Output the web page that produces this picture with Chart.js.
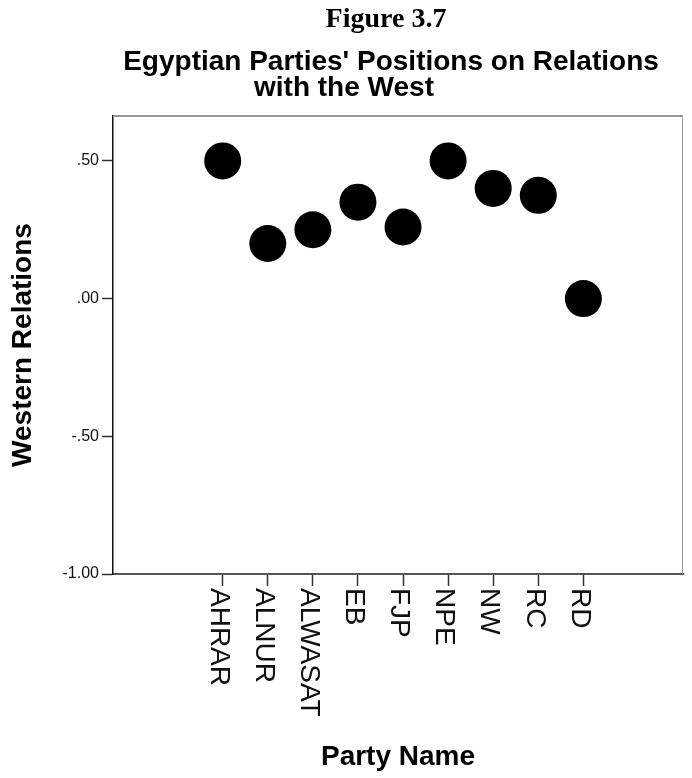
<!DOCTYPE html>
<html>
<head>
<meta charset="utf-8">
<title>Figure 3.7</title>
<script src="https://cdn.jsdelivr.net/npm/chart.js@4.4.1/dist/chart.umd.min.js"></script>
<style>
  html, body { margin: 0; padding: 0; background: #fff; }
</style>
</head>
<body>
<canvas id="partyChart" width="692" height="778"></canvas>
<script>
// Data
const partyNames = ['AHRAR', 'ALNUR', 'ALWASAT', 'EB', 'FJP', 'NPE', 'NW', 'RC', 'RD'];
const westernRelations = [0.50, 0.20, 0.25, 0.35, 0.26, 0.50, 0.40, 0.375, 0.00];
const yTickValues = [-1, -0.5, 0, 0.5];

const figureLabel = 'Figure 3.7';
const titleLines = ["Egyptian Parties' Positions on Relations", 'with the West'];
const yAxisTitle = 'Western Relations';
const xAxisTitle = 'Party Name';

const SANS = "'Liberation Sans', Arial, sans-serif";
const SERIF = "'Liberation Serif', 'Times New Roman', serif";

// SPSS style tick text: .50, .00, -.50, -1.00
function fmtTick(v) {
  let s = Math.abs(v).toFixed(2);
  if (s.startsWith('0')) s = s.slice(1);
  return (v < 0 ? '-' : '') + s;
}

// Titles (SPSS lines are not centred on the same x)
const titlePlugin = {
  id: 'spssTitles',
  afterDraw(chart) {
    const ctx = chart.ctx;
    ctx.save();
    ctx.fillStyle = '#000';
    ctx.textAlign = 'center';
    ctx.textBaseline = 'alphabetic';
    ctx.font = `bold 28px ${SERIF}`;
    ctx.fillText(figureLabel, 386, 27);
    ctx.font = `bold 28px ${SANS}`;
    ctx.fillText(titleLines[0], 391, 70);
    ctx.fillText(titleLines[1], 344, 96);
    ctx.restore();
  }
};

// Frame on the top and right of the plot, plus x labels read top-to-bottom
const framePlugin = {
  id: 'frameAndLabels',
  afterDraw(chart) {
    const { ctx, chartArea, scales } = chart;
    ctx.save();
    ctx.strokeStyle = '#999';
    ctx.lineWidth = 2;
    ctx.beginPath();
    ctx.moveTo(chartArea.left, chartArea.top);
    ctx.lineTo(chartArea.right, chartArea.top);
    ctx.stroke();
    ctx.lineWidth = 1;
    ctx.beginPath();
    ctx.moveTo(chartArea.right - 0.5, chartArea.top);
    ctx.lineTo(chartArea.right - 0.5, chartArea.bottom);
    ctx.stroke();

    ctx.font = `28px ${SANS}`;
    ctx.fillStyle = '#111';
    ctx.textAlign = 'left';
    ctx.textBaseline = 'middle';
    partyNames.forEach((name, i) => {
      const px = scales.x.getPixelForValue(i);
      ctx.save();
      ctx.translate(px - 4, chartArea.bottom + 14);
      ctx.rotate(Math.PI / 2);
      ctx.fillText(name, 0, 0);
      ctx.restore();
    });
    ctx.restore();
  }
};

const points = partyNames.map((_, i) => ({ x: i, y: westernRelations[i] }));

new Chart(document.getElementById('partyChart'), {
  type: 'scatter',
  data: {
    datasets: [{
      label: yAxisTitle,
      data: points,
      backgroundColor: '#000',
      borderWidth: 0,
      pointRadius: 18.5,
      pointHoverRadius: 18.5
    }]
  },
  options: {
    responsive: false,
    animation: false,
    events: [],
    layout: {
      autoPadding: false,
      padding: { top: 116, right: 9, left: 0, bottom: 0 }
    },
    plugins: {
      legend: { display: false },
      tooltip: { enabled: false },
      title: { display: false }
    },
    scales: {
      x: {
        type: 'linear',
        min: -2.433,
        max: 10.21,
        afterBuildTicks: scale => {
          scale.ticks = partyNames.map((_, i) => ({ value: i }));
        },
        afterFit: scale => { scale.height = 204; },
        ticks: { display: false },
        grid: {
          drawOnChartArea: false,
          drawTicks: true,
          tickLength: 12,
          tickColor: '#333',
          tickWidth: 1.5
        },
        border: { display: true, color: '#555', width: 2 },
        title: {
          display: true,
          text: xAxisTitle,
          color: '#000',
          font: { family: SANS, size: 28, weight: 'bold' },
          padding: { top: 0, bottom: 4 }
        }
      },
      y: {
        min: -1,
        max: 0.663,
        afterBuildTicks: scale => {
          scale.ticks = yTickValues.map(v => ({ value: v }));
        },
        afterFit: scale => { scale.width = 113; },
        ticks: {
          callback: v => fmtTick(v),
          color: '#111',
          font: { family: SANS, size: 16 },
          padding: 3
        },
        grid: {
          drawOnChartArea: false,
          drawTicks: true,
          tickLength: 11,
          tickColor: '#333',
          tickWidth: 1.5
        },
        border: { display: true, color: '#111', width: 1.5 },
        title: {
          display: true,
          text: yAxisTitle,
          color: '#000',
          font: { family: SANS, size: 28, weight: 'bold' },
          padding: { top: 6, bottom: 0 }
        }
      }
    }
  },
  plugins: [titlePlugin, framePlugin]
});
</script>
</body>
</html>
